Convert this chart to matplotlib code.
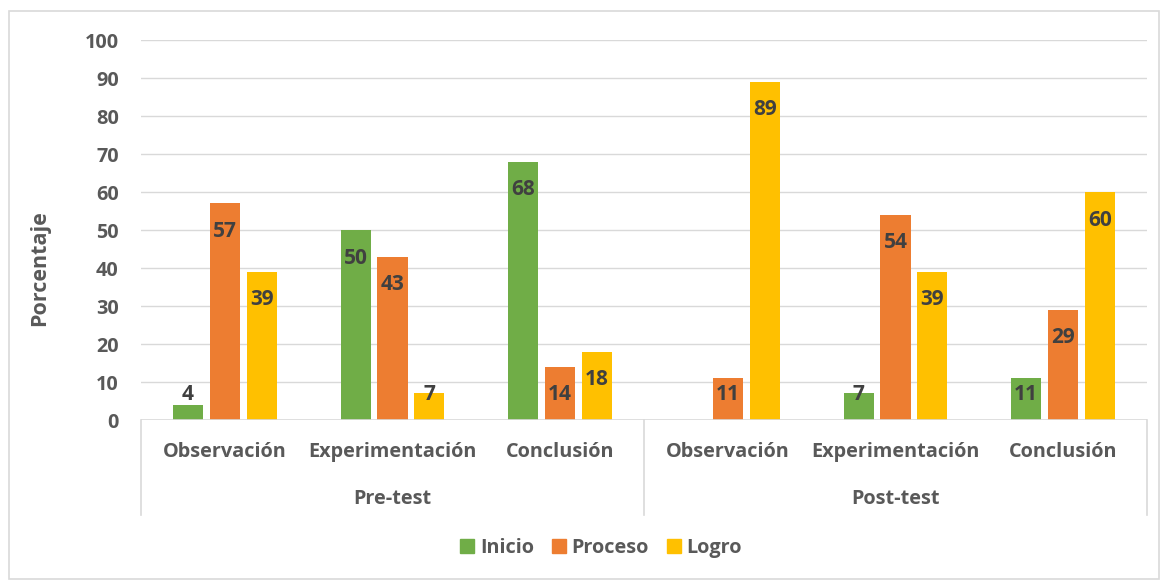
import matplotlib
matplotlib.use("Agg")
import matplotlib.pyplot as plt
import matplotlib.transforms as mtransforms
from matplotlib.patches import Rectangle, Patch
import numpy as np

plt.rcParams['font.family'] = ['Open Sans', 'DejaVu Sans']
plt.rcParams['font.weight'] = 'bold'

# data
groups = ["Pre-test", "Post-test"]
categories = ["Observación", "Experimentación", "Conclusión",
              "Observación", "Experimentación", "Conclusión"]
series_names = ["Inicio", "Proceso", "Logro"]
inicio = [4, 50, 68, 0, 7, 11]
proceso = [57, 43, 14, 11, 54, 29]
logro = [39, 7, 18, 89, 39, 60]
yticks = [0, 10, 20, 30, 40, 50, 60, 70, 80, 90, 100]

colors = ["#70AD47", "#ED7D31", "#FFC000"]
txt = "#595959"
lbl = "#404040"
grid = "#D9D9D9"
fs = 14.3

fig = plt.figure(figsize=(11.66, 5.82), dpi=100)
ax = fig.add_axes([141/1166, 1-420/582, 1006/1166, 380/582])

x = np.arange(len(categories))
width = 0.18
step = 0.22
allseries = [inicio, proceso, logro]
for i, vals in enumerate(allseries):
    xs = x + (i-1)*step
    ax.bar(xs, vals, width=width, color=colors[i], zorder=3)
    for xi, v in zip(xs, vals):
        if v == 0:
            continue
        # inside end, excel pushes short ones up so they stay readable
        ly = max(v - 7.4, 6.8)
        ax.text(xi, ly, str(v), ha="center", va="center", fontsize=15,
                color=lbl, fontweight="bold", zorder=5)

ax.set_xlim(-0.5, len(categories)-0.5)
ax.set_ylim(0, 100)
ax.set_yticks(yticks)
ax.set_yticklabels([str(t) for t in yticks], fontsize=fs, color=txt, fontweight="bold")
ax.tick_params(axis="y", length=0, pad=16)
ax.set_xticks([])
for s in ax.spines.values():
    s.set_visible(False)
for t in yticks[1:]:
    ax.axhline(t, color=grid, lw=1, zorder=1)
ax.axhline(0, color=grid, lw=1.2, zorder=4)

trans = mtransforms.blended_transform_factory(ax.transData, ax.transAxes)
ax_h = 380
for xi, c in zip(x, categories):
    ax.text(xi, -32/ax_h, c, transform=trans, ha="center", va="center",
            fontsize=fs, color=txt, fontweight="bold")
for gi, g in enumerate(groups):
    ax.text(gi*3 + 1, -79/ax_h, g, transform=trans, ha="center", va="center",
            fontsize=fs, color=txt, fontweight="bold")
for xb in [-0.5, 2.5, 5.5]:
    ax.plot([xb, xb], [0, -95/ax_h], transform=trans, color=grid, lw=1.2, clip_on=False)

fig.text(40/1166, 1-268/582, "Porcentaje", rotation=90, ha="center", va="center",
         fontsize=15.5, color=txt, fontweight="bold")

handles = [Patch(color=c) for c in colors]
fig.legend(handles, series_names, loc="center", bbox_to_anchor=(601/1166, 1-548/582),
           ncol=3, frameon=False, fontsize=fs, labelcolor=txt,
           handlelength=0.7, handleheight=0.7, handletextpad=0.3, columnspacing=0.9)

fig.patches.append(Rectangle((9/1166, 3/582), 1150/1166, 568/582, transform=fig.transFigure,
                             fill=False, edgecolor=grid, lw=1.2))

fig.savefig("out.png", dpi=100)
